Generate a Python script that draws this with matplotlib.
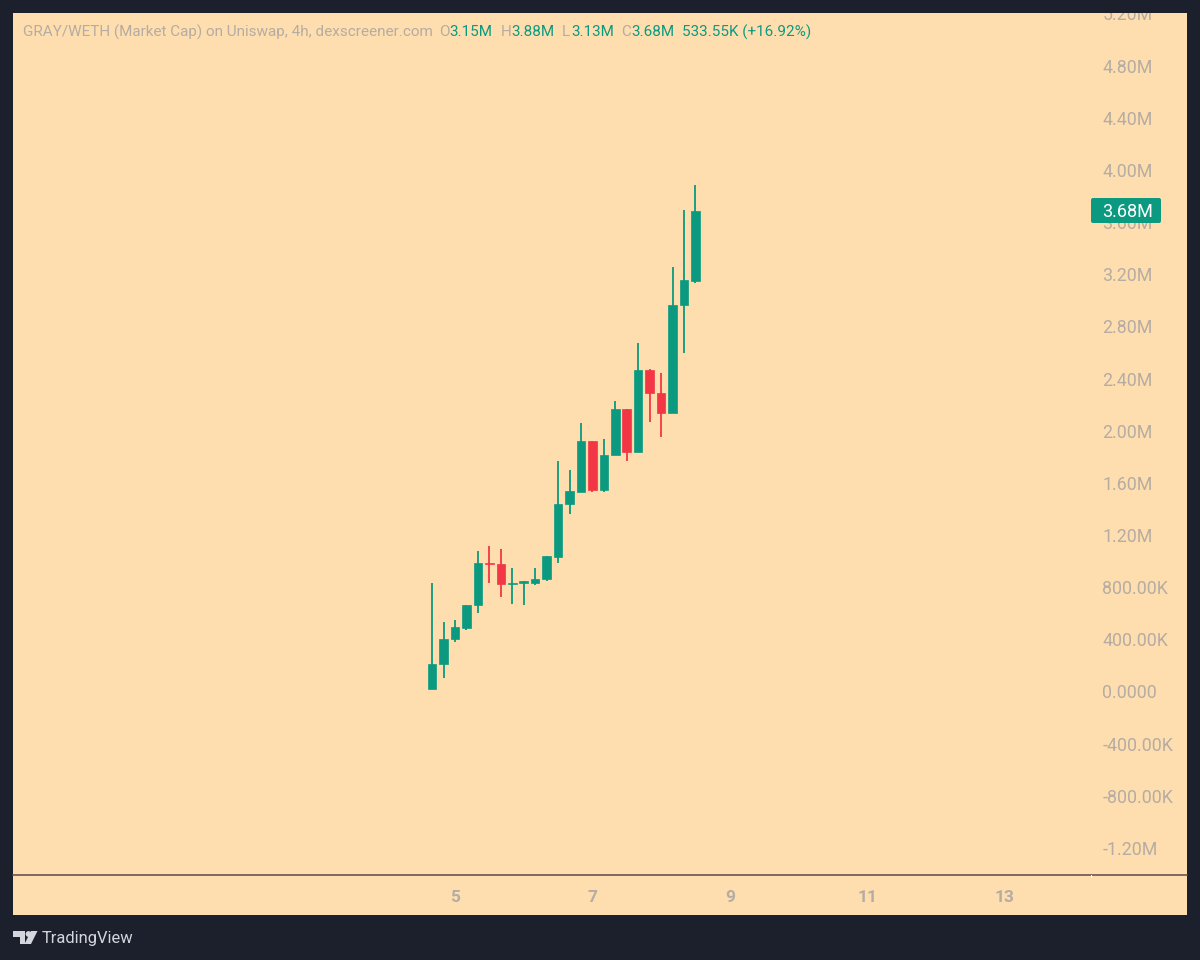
import matplotlib
matplotlib.use('Agg')
import matplotlib.pyplot as plt
from matplotlib.patches import Rectangle, Polygon, Circle, FancyBboxPatch
from matplotlib.transforms import Bbox, IdentityTransform
import numpy as np

plt.rcParams['font.family'] = ['Roboto', 'DejaVu Sans']

# market cap in millions, 4h candles
opens = [0.017, 0.211, 0.405, 0.487, 0.666, 0.988, 0.978, 0.827, 0.835, 0.830, 0.860, 1.034,
         1.438, 1.532, 1.924, 1.545, 1.811, 2.164, 1.839, 2.463, 2.289, 2.136, 2.962, 3.148]
highs = [0.834, 0.535, 0.548, 0.666, 1.075, 1.118, 1.090, 0.945, 0.845, 0.945, 1.037, 1.768,
         1.701, 2.062, 1.924, 1.937, 2.228, 2.164, 2.673, 2.471, 2.440, 3.256, 3.693, 3.887]
lows = [0.017, 0.101, 0.377, 0.472, 0.604, 0.830, 0.722, 0.673, 0.663, 0.817, 0.845, 0.983,
        1.361, 1.532, 1.530, 1.530, 1.811, 1.770, 1.839, 2.065, 1.954, 2.136, 2.596, 3.130]
closes = [0.211, 0.405, 0.492, 0.666, 0.988, 0.978, 0.827, 0.835, 0.845, 0.860, 1.037, 1.440,
          1.535, 1.924, 1.545, 1.814, 2.164, 1.839, 2.463, 2.289, 2.136, 2.965, 3.154, 3.685]
first_day = 4 + 4 / 6  # first candle opens at the 4th, 16:00
candle_days = first_day + np.arange(len(opens)) / 6

price_ticks = [-1.2, -0.8, -0.4, 0.0, 0.4, 0.8, 1.2, 1.6, 2.0, 2.4, 2.8, 3.2, 3.6, 4.0, 4.4, 4.8, 5.2]
price_labels = ['-1.20M', '-800.00K', '-400.00K', '0.0000', '400.00K', '800.00K', '1.20M', '1.60M',
                '2.00M', '2.40M', '2.80M', '3.20M', '3.60M', '4.00M', '4.40M', '4.80M', '5.20M']
day_ticks = [5, 7, 9, 11, 13]
last_price = 3.68

DARK = '#1b202c'
PANEL = '#fedeae'
GREEN = '#0b9a80'
RED = '#f23645'
LABEL = '#b5aca3'
W, H = 1200, 960


def fx(px):
    return px / W


def fy(py):
    return 1 - py / H


def add_px(patch):
    # patch given in pixels from the lower left corner
    patch.set_transform(IdentityTransform())
    fig.add_artist(patch)


fig = plt.figure(figsize=(12, 9.6), dpi=100, facecolor=DARK)
ax = fig.add_axes([fx(13), fy(875), fx(1187 - 13), fy(13) - fy(875)], facecolor=PANEL)
fig.patches.append(Rectangle((fx(13), fy(915)), fx(1174), fy(13) - fy(915), transform=fig.transFigure,
                             fc=PANEL, ec='none', zorder=-1))
fig.patches[-1].set_figure(fig)

ax.set_xlim(5 + (13 - 455) / 68.7, 5 + (1187 - 455) / 68.7)
ax.set_ylim(-1.4075, 5.203)

for d, o, h, l, c in zip(candle_days, opens, highs, lows, closes):
    col = GREEN if c >= o else RED
    ax.vlines(d, l, h, color=col, lw=1.3, zorder=2)
    ax.bar(d, abs(c - o), bottom=min(o, c), width=0.125, color=col, edgecolor=col, lw=0.5, zorder=3)

ax.set_yticks(price_ticks, price_labels)
ax.yaxis.tick_right()
ax.tick_params(axis='y', length=0, pad=-60.9, labelsize=12.8, labelcolor=LABEL)
ax.set_xticks(day_ticks, [str(d) for d in day_ticks])
ax.tick_params(axis='x', length=0, pad=11, labelsize=12.5, labelcolor=LABEL)
for lab in ax.get_xticklabels():
    lab.set_fontweight('bold')

# top label is cut off by the panel edge
fig.canvas.draw()
panel_box = Bbox.from_extents(13, H - 915, 1187, H - 13)
for lab in ax.get_yticklabels():
    lab.set_clip_box(panel_box)
    lab.set_clip_on(True)

for side in ['top', 'left', 'right']:
    ax.spines[side].set_visible(False)
ax.spines['bottom'].set_color('#5e4648')
ax.spines['bottom'].set_linewidth(1.1)

# last price tag, inside the axes so it sits on top of the 3.60M label
tag = FancyBboxPatch((1092, H - 222), 68, 23, boxstyle='round,pad=1,rounding_size=2', fc=GREEN, ec='none',
                     transform=IdentityTransform(), zorder=4, clip_on=False)
ax.add_patch(tag)
ax.text((1102.5 - 13) / 1174, last_price, '3.68M', transform=ax.get_yaxis_transform(), color='white',
        fontsize=13, ha='left', va='center', zorder=5, clip_on=False)

# tick of the price axis on the separator
add_px(Rectangle((1090.5, H - 878), 1, 3, fc='white', ec='none', zorder=4))

# legend line
y0 = fy(32)
fig.text(fx(23), y0, 'GRAY/WETH (Market Cap) on Uniswap, 4h, dexscreener.com', color=LABEL, fontsize=10.95, va='center')
for px, s in [(439, 'O'), (501, 'H'), (562, 'L'), (621, 'C')]:
    fig.text(fx(px), y0, s, color=LABEL, fontsize=10.95, va='center')
for px, s in [(449, '3.15M'), (511, '3.88M'), (571, '3.13M'), (631, '3.68M'), (682, '533.55K (+16.92%)')]:
    fig.text(fx(px), y0, s, color=GREEN, fontsize=10.95, va='center')

# TradingView logo
LOGO = '#d3d6dc'
add_px(Polygon([(13, H - 931), (25, H - 931), (25, H - 944), (19.5, H - 944), (19.5, H - 937), (13, H - 937)], fc=LOGO, ec='none'))
add_px(Circle((28.5, H - 934), 2.9, fc=LOGO, ec='none'))
add_px(Polygon([(31, H - 931), (37.5, H - 931), (31, H - 944), (24.5, H - 944)], fc=LOGO, ec='none'))
fig.text(fx(42), fy(938), 'TradingView', color=LOGO, fontsize=11.9, va='center')

fig.savefig('out.png', dpi=100, facecolor=DARK)
